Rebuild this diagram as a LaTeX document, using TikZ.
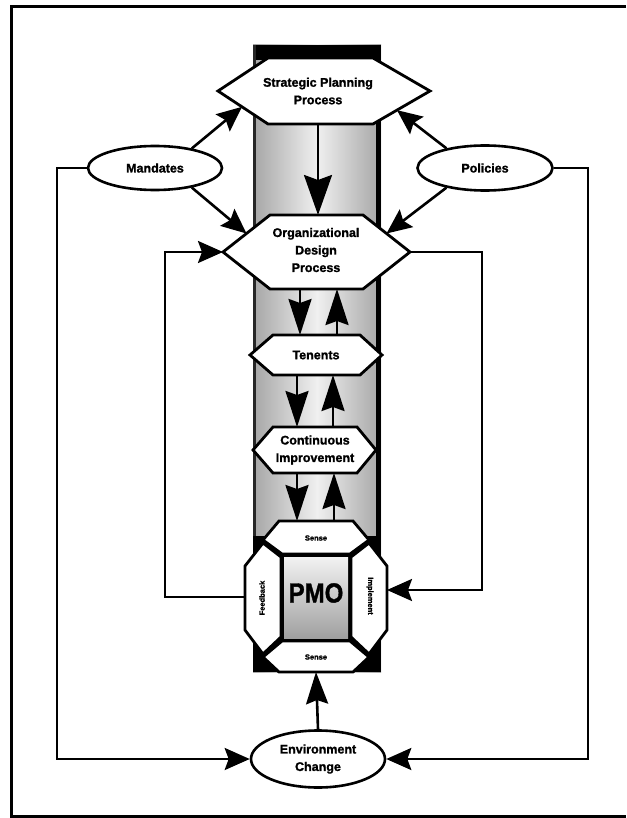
\documentclass[tikz,border=0pt]{standalone}
\usepackage{fontspec}
\setmainfont{Liberation Sans}
\newfontfamily\heavy{Liberation Sans Bold}[FakeBold=1.4]
\usetikzlibrary{arrows.meta,shapes.geometric,calc}
\begin{document}
\begin{tikzpicture}[x=1pt,y=-1pt,
  lbl/.style={font=\heavy\fontsize{12.5}{17.5}\selectfont, align=center, inner sep=0pt},
  small/.style={font=\heavy\fontsize{7.5}{8}\selectfont, inner sep=0pt},
  oval/.style={ellipse, draw, line width=2.6pt, fill=white, inner sep=0pt},
  hexa/.style={draw, line width=2.8pt, fill=white, line join=miter},
  conn/.style={line width=2.6pt},
  bigarrow/.style={-{Stealth[length=25pt,width=22pt,inset=4pt]}},
  colarrow/.style={-{Stealth[length=36pt,width=23pt,inset=4pt]}},
  toparrow/.style={-{Stealth[length=40pt,width=28pt,inset=5pt]}},
  envarrow/.style={-{Stealth[length=32pt,width=22pt,inset=4pt]}}]
\useasboundingbox (0,0) rectangle (626,818);
% frame
\draw[line width=3pt] (626,7) -- (11,7) -- (11,816) -- (626,816);

% shaded column
\shade[left color=gray!70, right color=gray!70, middle color=gray!12] (253,45) rectangle (381,672);
\fill[black] (253,45) rectangle (381,60);
\draw[line width=3pt, black!85] (254.5,45) -- (254.5,672);
\draw[line width=5pt] (378.5,45) -- (378.5,672);
\fill[black] (253,536) rectangle (381,672);

% hexagon vertices
\coordinate (s1) at (218,91);  \coordinate (s2) at (268,58);  \coordinate (s3) at (373,58);
\coordinate (s4) at (430,91);  \coordinate (s5) at (373,124); \coordinate (s6) at (268,124);
\coordinate (o1) at (223,252); \coordinate (o2) at (270,215); \coordinate (o3) at (363,215);
\coordinate (o4) at (410,252); \coordinate (o5) at (363,289); \coordinate (o6) at (270,289);
\coordinate (t1) at (250,355); \coordinate (t2) at (273,335); \coordinate (t3) at (360,335);
\coordinate (t4) at (382,355); \coordinate (t5) at (360,375); \coordinate (t6) at (273,375);
\coordinate (c1) at (253,450); \coordinate (c2) at (273,427); \coordinate (c3) at (357,427);
\coordinate (c4) at (376,450); \coordinate (c5) at (357,473); \coordinate (c6) at (273,473);

% hexagons
\draw[hexa] (s1)--(s2)--(s3)--(s4)--(s5)--(s6)--cycle;
\draw[hexa] (o1)--(o2)--(o3)--(o4)--(o5)--(o6)--cycle;
\draw[hexa] (t1)--(t2)--(t3)--(t4)--(t5)--(t6)--cycle;
\draw[hexa] (c1)--(c2)--(c3)--(c4)--(c5)--(c6)--cycle;

\node[lbl] (spp) at (318,91) {Strategic Planning\\Process};
\node[lbl] (odp) at (316,250) {Organizational\\Design\\Process};
\node[lbl] (ten) at (316,355) {Tenents};
\node[lbl] (ci) at (315,450) {Continuous\\Improvement};

% PMO assembly
\draw[hexa] (263,540)--(279,521)--(353,521)--(369,540)--(350,554)--(282,554)--cycle;
\draw[hexa] (263,543)--(245,566)--(245,630)--(263,654)--(281,637)--(281,557)--cycle;
\draw[hexa] (369,543)--(387,566)--(387,630)--(369,654)--(351,637)--(351,557)--cycle;
\draw[hexa] (263,657)--(282,641)--(350,641)--(369,657)--(353,672)--(279,672)--cycle;
\shade[top color=gray!10, bottom color=gray!75] (284,557) rectangle (348,638);
\node[small] (sense1) at (316,538) {Sense};
\node[small] (sense2) at (316,657) {Sense};
\node[small, rotate=90] (fb) at (262,598) {Feedback};
\node[small, rotate=-90] (im) at (370,596) {Implement};
\node[font=\heavy\fontsize{24}{24}\selectfont, inner sep=0pt, yscale=1.15] (pmo) at (316,593) {PMO};
\coordinate (fbw) at (245,597);
\coordinate (ime) at (387,590);
\coordinate (bss) at (316,672);

% ovals
\node[oval, minimum width=134pt, minimum height=44pt] (mand) at (155,168) {};
\node[lbl] at (mand) {Mandates};
\node[oval, minimum width=135pt, minimum height=45pt] (pol) at (485,168) {};
\node[lbl] at (pol) {Policies};
\node[oval, minimum width=134pt, minimum height=57pt] (env) at (318,759) {};
\node[lbl] at (env) {Environment\\Change};

% column arrows
\draw[conn,toparrow] (318,124) -- (318,215);
\draw[conn,colarrow] (300,289) -- (300,335);
\draw[conn,colarrow] (337,335) -- (337,289);
\draw[conn,colarrow] (297,375) -- (297,427);
\draw[conn,colarrow] (333,427) -- (333,375);
\draw[conn,colarrow] (297,473) -- (297,521);
\draw[conn,colarrow] (334,521) -- (334,473);

% mandates / policies arrows
\draw[conn,bigarrow] (mand.28) -- ($(s1)!0.48!(s6)$);
\draw[conn,bigarrow] (mand.-28) -- ($(o1)!0.5!(o2)$);
\draw[conn,bigarrow] (pol.153) -- ($(s4)!0.58!(s5)$);
\draw[conn,bigarrow] (pol.207) -- ($(o4)!0.5!(o3)$);

% loops
\draw[conn,bigarrow] (fbw) -| (165,252) -- (o1);
\draw[conn,bigarrow] (o4) -- (482,252) |- (ime);
\draw[conn,bigarrow] (mand.west) -| (57,759) -- (env.west);
\draw[conn,bigarrow] (pol.east) -| (588,759) -- (env.east);
\draw[conn,envarrow] (env.north) -- (bss);
\end{tikzpicture}
\end{document}
